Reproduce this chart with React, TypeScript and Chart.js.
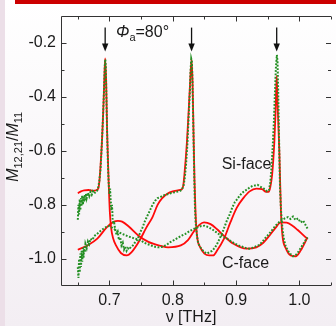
import React, { useEffect, useRef } from "react";
import { Chart, registerables } from "chart.js";

Chart.register(...registerables);

const FONT = '"Liberation Sans", Arial, Helvetica, sans-serif';

// frequency [THz], M12,21/M11
const siFaceModel: [number, number][] = [
  [0.650, -0.757], [0.655, -0.750], [0.660, -0.746], [0.667, -0.745], [0.674, -0.748], [0.679, -0.746],
  [0.6825, -0.738], [0.684, -0.715], [0.6863, -0.640], [0.6881, -0.567], [0.6901, -0.458], [0.6917, -0.348],
  [0.6932, -0.258], [0.6948, -0.348], [0.6963, -0.531], [0.6987, -0.713], [0.7005, -0.823], [0.7026, -0.885],
  [0.706, -0.925], [0.7103, -0.950], [0.718, -0.978], [0.7274, -0.987], [0.735, -0.975], [0.7475, -0.932],
  [0.758, -0.885], [0.768, -0.845], [0.776, -0.800], [0.783, -0.776], [0.792, -0.758], [0.800, -0.750],
  [0.808, -0.746], [0.8145, -0.742], [0.8165, -0.730], [0.8184, -0.688], [0.8224, -0.567], [0.825, -0.458],
  [0.8274, -0.348], [0.8297, -0.262], [0.8313, -0.348], [0.8328, -0.531], [0.8344, -0.713], [0.836, -0.830],
  [0.8383, -0.914], [0.8437, -0.958], [0.850, -0.980], [0.8577, -0.987], [0.8639, -0.987], [0.870, -0.969],
  [0.881, -0.925], [0.891, -0.865], [0.901, -0.811], [0.9115, -0.775], [0.9215, -0.750], [0.932, -0.740],
  [0.941, -0.742], [0.9476, -0.752], [0.9515, -0.752], [0.954, -0.735], [0.957, -0.688], [0.9605, -0.567],
  [0.9624, -0.458], [0.9642, -0.323], [0.9655, -0.421], [0.9684, -0.604], [0.9709, -0.823], [0.9733, -0.914],
  [0.9787, -0.961], [0.9864, -0.987], [0.9942, -0.990], [1.002, -0.969], [1.0128, -0.921],
];

const siFaceExp: [number, number][] = [
  [0.650, -0.855], [0.651, -0.80], [0.652, -0.835], [0.653, -0.78], [0.654, -0.82], [0.655, -0.775],
  [0.656, -0.805], [0.657, -0.765], [0.658, -0.80], [0.659, -0.77], [0.660, -0.79], [0.661, -0.762],
  [0.662, -0.785], [0.663, -0.758], [0.664, -0.775], [0.666, -0.755], [0.668, -0.768], [0.670, -0.752],
  [0.672, -0.762], [0.674, -0.750], [0.676, -0.758], [0.678, -0.752], [0.680, -0.750], [0.682, -0.738],
  [0.684, -0.712], [0.686, -0.665], [0.687, -0.62], [0.688, -0.57], [0.689, -0.52], [0.690, -0.46],
  [0.691, -0.40], [0.692, -0.33], [0.6928, -0.275], [0.6935, -0.262], [0.6942, -0.29], [0.695, -0.38],
  [0.696, -0.50], [0.697, -0.60], [0.698, -0.68], [0.699, -0.73], [0.700, -0.76], [0.701, -0.74],
  [0.702, -0.79], [0.703, -0.82], [0.704, -0.80], [0.705, -0.85], [0.706, -0.87], [0.707, -0.86],
  [0.709, -0.89], [0.711, -0.91], [0.713, -0.90], [0.715, -0.93], [0.717, -0.92], [0.719, -0.95],
  [0.721, -0.94], [0.723, -0.965], [0.725, -0.955], [0.727, -0.97], [0.729, -0.96], [0.731, -0.965],
  [0.734, -0.955], [0.737, -0.95], [0.740, -0.94], [0.744, -0.93], [0.748, -0.905], [0.752, -0.885],
  [0.756, -0.86], [0.760, -0.84], [0.764, -0.82], [0.768, -0.80], [0.772, -0.785], [0.776, -0.775],
  [0.780, -0.772], [0.785, -0.765], [0.790, -0.762], [0.795, -0.758], [0.800, -0.755], [0.805, -0.752],
  [0.810, -0.750], [0.814, -0.745], [0.817, -0.73], [0.819, -0.70], [0.821, -0.65], [0.823, -0.58],
  [0.825, -0.48], [0.827, -0.38], [0.828, -0.31], [0.8292, -0.26], [0.8302, -0.27], [0.831, -0.33],
  [0.832, -0.45], [0.833, -0.58], [0.834, -0.70], [0.835, -0.80], [0.836, -0.86], [0.838, -0.91],
  [0.840, -0.94], [0.843, -0.955], [0.846, -0.965], [0.850, -0.975], [0.854, -0.98], [0.858, -0.975],
  [0.862, -0.97], [0.866, -0.96], [0.870, -0.945], [0.874, -0.925], [0.878, -0.905], [0.882, -0.88],
  [0.886, -0.855], [0.890, -0.835], [0.894, -0.81], [0.898, -0.79], [0.902, -0.778], [0.906, -0.765],
  [0.910, -0.755], [0.914, -0.748], [0.918, -0.742], [0.922, -0.735], [0.926, -0.73], [0.930, -0.728],
  [0.934, -0.726], [0.938, -0.732], [0.942, -0.738], [0.946, -0.742], [0.949, -0.75], [0.952, -0.745],
  [0.954, -0.72], [0.956, -0.66], [0.958, -0.58], [0.960, -0.48], [0.961, -0.41], [0.962, -0.35],
  [0.963, -0.29], [0.9645, -0.245], [0.9655, -0.27], [0.9665, -0.37], [0.9675, -0.50], [0.9685, -0.63],
  [0.9695, -0.74], [0.971, -0.82], [0.973, -0.88], [0.975, -0.92], [0.978, -0.95], [0.982, -0.97],
  [0.986, -0.982], [0.990, -0.99], [0.994, -0.987], [0.998, -0.975], [1.002, -0.96], [1.006, -0.945],
  [1.010, -0.93], [1.013, -0.92],
];

const cFaceModel: [number, number][] = [
  [0.650, -0.966], [0.6653, -0.950], [0.6808, -0.925], [0.6964, -0.881], [0.7072, -0.862], [0.7134, -0.859],
  [0.720, -0.862], [0.7305, -0.880], [0.746, -0.914], [0.7615, -0.937], [0.7817, -0.952], [0.7925, -0.957],
  [0.8127, -0.950], [0.824, -0.930], [0.8339, -0.896], [0.842, -0.874], [0.8494, -0.865], [0.8597, -0.871],
  [0.870, -0.890], [0.8805, -0.914], [0.896, -0.944], [0.9166, -0.962], [0.932, -0.957], [0.943, -0.940],
  [0.9527, -0.914], [0.962, -0.886], [0.9709, -0.865], [0.980, -0.866], [0.9891, -0.877], [0.997, -0.892],
  [1.0045, -0.908], [1.0128, -0.926],
];

const cFaceExp: [number, number][] = [
  [0.650, -1.03], [0.651, -1.07], [0.652, -1.00], [0.653, -1.05], [0.654, -0.98], [0.655, -1.03],
  [0.656, -0.97], [0.657, -1.01], [0.658, -0.96], [0.659, -0.995], [0.660, -0.955], [0.661, -0.975],
  [0.662, -0.945], [0.664, -0.96], [0.666, -0.935], [0.668, -0.945], [0.670, -0.925], [0.673, -0.93],
  [0.676, -0.915], [0.680, -0.908], [0.684, -0.90], [0.688, -0.892], [0.692, -0.886], [0.696, -0.88],
  [0.700, -0.878], [0.704, -0.884], [0.708, -0.89], [0.712, -0.898], [0.716, -0.903], [0.720, -0.907],
  [0.725, -0.912], [0.730, -0.917], [0.735, -0.92], [0.740, -0.925], [0.745, -0.928], [0.750, -0.932],
  [0.755, -0.94], [0.760, -0.945], [0.766, -0.95], [0.772, -0.955], [0.778, -0.957], [0.784, -0.955],
  [0.790, -0.948], [0.796, -0.938], [0.802, -0.93], [0.808, -0.922], [0.814, -0.914], [0.820, -0.907],
  [0.826, -0.898], [0.832, -0.89], [0.838, -0.884], [0.844, -0.879], [0.850, -0.877], [0.856, -0.882],
  [0.862, -0.89], [0.868, -0.90], [0.874, -0.91], [0.880, -0.918], [0.886, -0.925], [0.892, -0.935],
  [0.898, -0.943], [0.904, -0.95], [0.910, -0.955], [0.916, -0.96], [0.921, -0.962], [0.927, -0.958],
  [0.932, -0.953], [0.937, -0.948], [0.942, -0.935], [0.947, -0.92], [0.952, -0.908], [0.957, -0.893],
  [0.962, -0.878], [0.967, -0.866], [0.972, -0.856], [0.977, -0.85], [0.982, -0.845], [0.986, -0.852],
  [0.990, -0.843], [0.994, -0.856], [0.998, -0.85], [1.002, -0.865], [1.006, -0.858], [1.010, -0.875],
  [1.013, -0.888],
];

const arrowFreqs = [0.6932, 0.8297, 0.9642];
const xRange = [0.625, 1.05];
const yRange = [-1.1, -0.1];

type Run = { t: string; font: string; dy: number };

function runsWidth(ctx: CanvasRenderingContext2D, runs: Run[]) {
  let w = 0;
  for (const r of runs) {
    ctx.font = r.font;
    w += ctx.measureText(r.t).width;
  }
  return w;
}

function drawRuns(ctx: CanvasRenderingContext2D, runs: Run[], x: number, y: number) {
  let cx = x;
  ctx.textBaseline = "alphabetic";
  ctx.textAlign = "left";
  for (const r of runs) {
    ctx.font = r.font;
    ctx.fillText(r.t, cx, y + r.dy);
    cx += ctx.measureText(r.t).width;
  }
}

const decorPlugin = {
  id: "decor",
  beforeDraw(chart: any) {
    const { ctx, width, height } = chart;
    ctx.save();
    const g = ctx.createLinearGradient(0, 0, 0, height);
    g.addColorStop(0, "#ffffff");
    g.addColorStop(1, "#f3eef3");
    ctx.fillStyle = g;
    ctx.fillRect(0, 0, width, height);
    ctx.fillStyle = "#ecdfe8";
    ctx.fillRect(0, 0, 5, height);
    ctx.fillStyle = "#cc0000";
    ctx.fillRect(15, 0, width - 15, 4);
    ctx.restore();
  },
  afterDraw(chart: any) {
    const { ctx, chartArea: a, scales } = chart;
    const xs = scales.x;
    const ys = scales.y;
    ctx.save();
    ctx.strokeStyle = "#333";
    ctx.lineWidth = 1;
    // frame
    const L = Math.round(a.left) - 0.5;
    const T = Math.round(a.top) + 0.5;
    const B = Math.round(a.bottom) - 0.5;
    const R = a.right;
    ctx.beginPath();
    ctx.moveTo(L, T);
    ctx.lineTo(L, B);
    ctx.lineTo(R, B);
    ctx.moveTo(L, T);
    ctx.lineTo(R, T);
    ctx.stroke();
    // x ticks
    ctx.beginPath();
    for (const t of xs.ticks) {
      const k = Math.round(t.value * 100);
      if (k % 5 !== 0) continue;
      const len = k % 10 === 0 ? 5 : 3;
      const px = Math.round(xs.getPixelForValue(t.value)) + 0.5;
      ctx.moveTo(px, B);
      ctx.lineTo(px, B - len);
      ctx.moveTo(px, T);
      ctx.lineTo(px, T + len);
    }
    // y ticks
    for (const t of ys.ticks) {
      const k = Math.round(t.value * 10);
      if (k === -11 || k === -1) continue;
      const len = k % 2 === 0 ? 5 : 3;
      const py = Math.round(ys.getPixelForValue(t.value)) + 0.5;
      ctx.moveTo(L, py);
      ctx.lineTo(L + len, py);
      ctx.moveTo(R, py);
      ctx.lineTo(R - len, py);
    }
    ctx.stroke();

    // arrows
    ctx.strokeStyle = "#111";
    ctx.fillStyle = "#111";
    ctx.lineWidth = 1.3;
    for (const f of arrowFreqs) {
      const x = xs.getPixelForValue(f);
      const y0 = a.top + 12;
      const y1 = a.top + 36;
      ctx.beginPath();
      ctx.moveTo(x, y0);
      ctx.lineTo(x, y1 - 7);
      ctx.stroke();
      ctx.beginPath();
      ctx.moveTo(x - 3.2, y1 - 8);
      ctx.lineTo(x + 3.2, y1 - 8);
      ctx.lineTo(x, y1);
      ctx.closePath();
      ctx.fill();
    }

    ctx.fillStyle = "#1a1a1a";
    // angle label
    drawRuns(
      ctx,
      [
        { t: "Φ", font: `italic 16px ${FONT}`, dy: 0 },
        { t: "a", font: `11px ${FONT}`, dy: 4 },
        { t: "=80°", font: `16px ${FONT}`, dy: 0 },
      ],
      xs.getPixelForValue(0.7103),
      a.top + 21
    );
    // face labels
    ctx.font = `16px ${FONT}`;
    ctx.textAlign = "center";
    ctx.textBaseline = "alphabetic";
    ctx.fillText("Si-face", xs.getPixelForValue(0.9166), ys.getPixelForValue(-0.669));
    ctx.fillText("C-face", xs.getPixelForValue(0.915), ys.getPixelForValue(-1.034));

    // x title
    ctx.fillText("ν [THz]", 191, 322);

    // y title
    const yRuns: Run[] = [
      { t: "M", font: `italic 16px ${FONT}`, dy: 0 },
      { t: "12,21", font: `11px ${FONT}`, dy: 4 },
      { t: "/", font: `16px ${FONT}`, dy: 0 },
      { t: "M", font: `italic 16px ${FONT}`, dy: 0 },
      { t: "11", font: `11px ${FONT}`, dy: 4 },
    ];
    const w = runsWidth(ctx, yRuns);
    ctx.translate(18, (a.top + a.bottom) / 2 - 4);
    ctx.rotate(-Math.PI / 2);
    drawRuns(ctx, yRuns, -w / 2, 0);
    ctx.restore();
  },
};

export default function App() {
  const ref = useRef<HTMLCanvasElement | null>(null);
  useEffect(() => {
    document.body.style.margin = "0";
    const canvas = ref.current;
    if (!canvas) return;
    const toPts = (arr: [number, number][]) => arr.map(([x, y]) => ({ x, y }));
    const green = "#248f24";
    const red = "#ff0a0a";
    const chart = new Chart(canvas, {
      type: "line",
      data: {
        datasets: [
          {
            label: "Si-face exp",
            data: toPts(siFaceExp),
            borderColor: green,
            borderWidth: 2,
            borderDash: [1.8, 1.6],
            pointRadius: 0,
            tension: 0,
            order: 0,
          },
          {
            label: "C-face exp",
            data: toPts(cFaceExp),
            borderColor: green,
            borderWidth: 2,
            borderDash: [1.8, 1.6],
            pointRadius: 0,
            tension: 0,
            order: 0,
          },
          {
            label: "Si-face model",
            data: toPts(siFaceModel),
            borderColor: red,
            borderWidth: 1.8,
            pointRadius: 0,
            cubicInterpolationMode: "monotone",
            order: 1,
          },
          {
            label: "C-face model",
            data: toPts(cFaceModel),
            borderColor: red,
            borderWidth: 1.8,
            pointRadius: 0,
            cubicInterpolationMode: "monotone",
            order: 1,
          },
        ],
      },
      options: {
        responsive: false,
        animation: false,
        devicePixelRatio: 1,
        parsing: false as any,
        layout: { padding: { top: 12, right: 0, left: 0, bottom: 0 } },
        plugins: { legend: { display: false }, tooltip: { enabled: false } },
        scales: {
          x: {
            type: "linear",
            min: xRange[0],
            max: xRange[1],
            grid: { display: false, drawTicks: false },
            border: { display: false },
            afterFit: (s: any) => {
              s.height = 40;
            },
            ticks: {
              stepSize: 0.05,
              includeBounds: false,
              autoSkip: false,
              maxRotation: 0,
              maxTicksLimit: 100,
              padding: 5,
              color: "#1a1a1a",
              font: { family: FONT, size: 16 },
              callback: (v: any) => {
                const k = Math.round(Number(v) * 100);
                return k % 10 === 0 && k <= 100 ? (k / 100).toFixed(1) : "";
              },
            },
          },
          y: {
            type: "linear",
            min: yRange[0],
            max: yRange[1],
            grid: { display: false, drawTicks: false },
            border: { display: false },
            afterFit: (s: any) => {
              s.width = 62;
            },
            ticks: {
              stepSize: 0.1,
              includeBounds: false,
              autoSkip: false,
              maxTicksLimit: 100,
              padding: 6,
              color: "#1a1a1a",
              font: { family: FONT, size: 16 },
              callback: (v: any) => {
                const k = Math.round(Number(v) * 10);
                return k % 2 === 0 ? (k / 10).toFixed(1) : "";
              },
            },
          },
        },
      },
      plugins: [decorPlugin],
    } as any);
    return () => chart.destroy();
  }, []);
  return (
    <div style={{ width: 336, height: 326 }}>
      <canvas ref={ref} width={336} height={326} style={{ display: "block" }} />
    </div>
  );
}
